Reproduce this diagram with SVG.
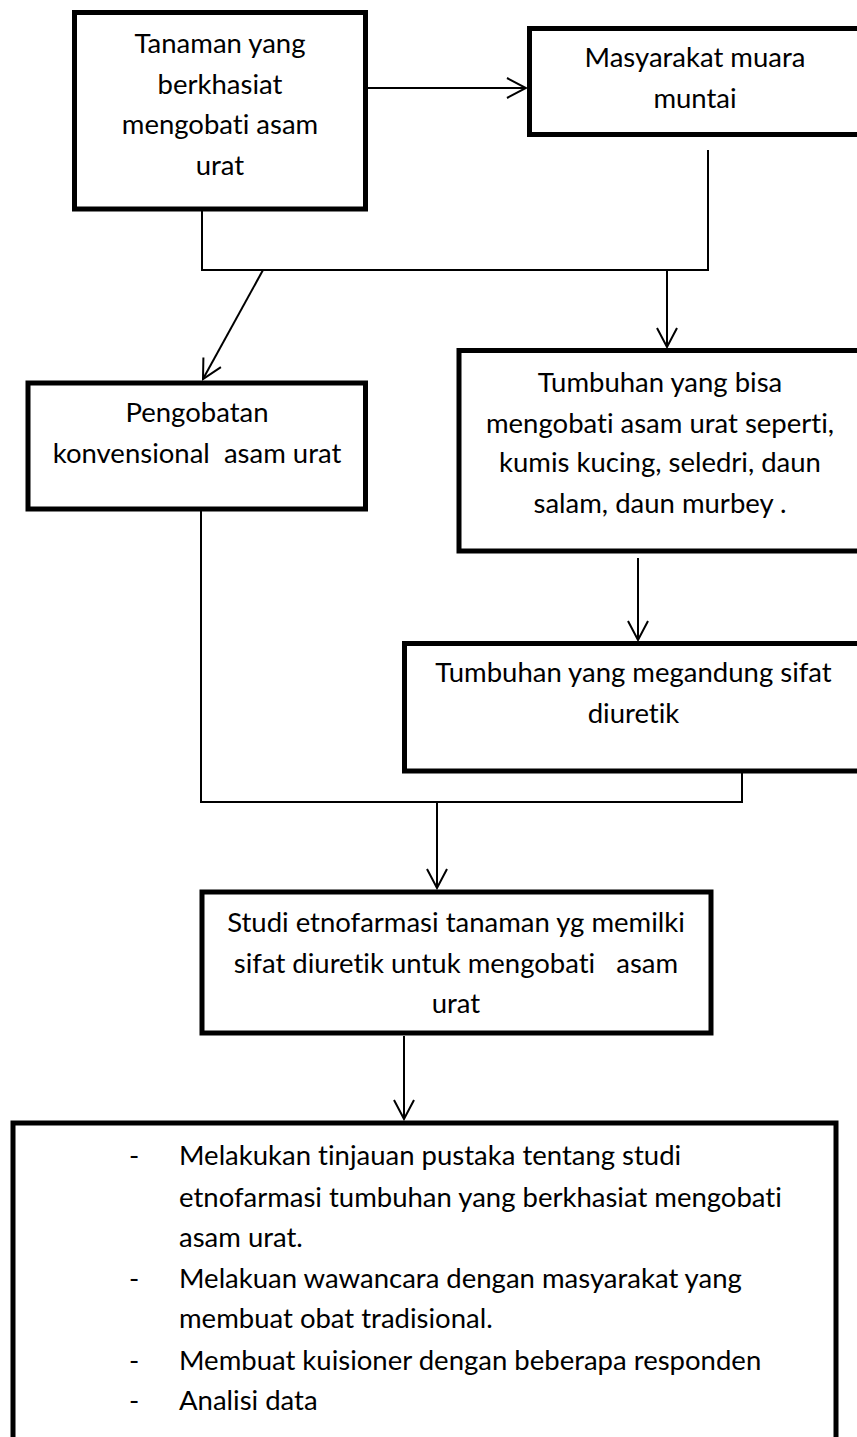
<svg xmlns="http://www.w3.org/2000/svg" width="857" height="1437" viewBox="0 0 857 1437">
<style>
.box{fill:#fff;stroke:#000;stroke-width:5}
.t{font-family:Lato,"Open Sans","Liberation Sans",sans-serif;font-size:27.5px;fill:#000;white-space:pre;font-variant-ligatures:none;font-feature-settings:"liga" 0,"clig" 0}
.c{text-anchor:middle}
.ln{fill:none;stroke:#000;stroke-width:2}
</style>
<defs>
<marker id="ah" markerUnits="userSpaceOnUse" viewBox="-22 -12 24 24" refX="0" refY="0" markerWidth="24" markerHeight="24" orient="auto">
<path d="M-19,-10 L0,0 L-19,10" fill="none" stroke="#000" stroke-width="2"/>
</marker>
</defs>
<rect width="857" height="1437" fill="#fff"/>
<g id="connectors">
<line class="ln" x1="368" y1="88" x2="526" y2="88" marker-end="url(#ah)"/>
<path class="ln" d="M202,211 V270 H708 V150"/>
<line class="ln" x1="263" y1="270" x2="203" y2="379" marker-end="url(#ah)"/>
<line class="ln" x1="667" y1="270" x2="667" y2="347" marker-end="url(#ah)"/>
<line class="ln" x1="638" y1="558" x2="638" y2="640" marker-end="url(#ah)"/>
<path class="ln" d="M201,502 V802 H742 V757"/>
<line class="ln" x1="437" y1="802" x2="437" y2="888" marker-end="url(#ah)"/>
<line class="ln" x1="404" y1="1036" x2="404" y2="1119" marker-end="url(#ah)"/>
</g>
<g id="node-tanaman">
<rect class="box" x="74.5" y="12.5" width="291" height="196.5"/>
<text class="t c" x="220" y="53">Tanaman yang</text>
<text class="t c" x="220" y="93.5">berkhasiat</text>
<text class="t c" x="220" y="134">mengobati asam</text>
<text class="t c" x="220" y="174.5">urat</text>
</g>
<g id="node-masyarakat">
<rect class="box" x="529.5" y="28.5" width="331" height="106"/>
<text class="t c" x="695" y="67">Masyarakat muara</text>
<text class="t c" x="695" y="108">muntai</text>
</g>
<g id="node-pengobatan">
<rect class="box" x="28" y="383" width="337.5" height="126"/>
<text class="t c" x="197" y="422">Pengobatan</text>
<text class="t c" x="197" y="463">konvensional  asam urat</text>
</g>
<g id="node-tumbuhan-bisa">
<rect class="box" x="459" y="350.5" width="403" height="200.5"/>
<text class="t c" x="660" y="392">Tumbuhan yang bisa</text>
<text class="t c" x="660" y="433">mengobati asam urat seperti,</text>
<text class="t c" x="660" y="472">kumis kucing, seledri, daun</text>
<text class="t c" x="660" y="513">salam, daun murbey .</text>
</g>
<g id="node-diuretik">
<rect class="box" x="404.5" y="643.5" width="458" height="127.5"/>
<text class="t c" x="633.5" y="682">Tumbuhan yang megandung sifat</text>
<text class="t c" x="633.5" y="723">diuretik</text>
</g>
<g id="node-studi">
<rect class="box" x="202" y="892" width="509" height="141"/>
<text class="t c" x="456" y="932">Studi etnofarmasi tanaman yg memilki</text>
<text class="t c" x="456" y="972.5">sifat diuretik untuk mengobati   asam</text>
<text class="t c" x="456" y="1013">urat</text>
</g>
<g id="node-metode">
<rect class="box" x="13" y="1123" width="823" height="330"/>
<text class="t c" x="134" y="1165">-</text>
<text class="t" x="179" y="1165">Melakukan tinjauan pustaka tentang studi</text>
<text class="t" x="179" y="1207">etnofarmasi tumbuhan yang berkhasiat mengobati</text>
<text class="t" x="179" y="1247">asam urat.</text>
<text class="t c" x="134" y="1288">-</text>
<text class="t" x="179" y="1288">Melakuan wawancara dengan masyarakat yang</text>
<text class="t" x="179" y="1328">membuat obat tradisional.</text>
<text class="t c" x="134" y="1370">-</text>
<text class="t" x="179" y="1370">Membuat kuisioner dengan beberapa responden</text>
<text class="t c" x="134" y="1410">-</text>
<text class="t" x="179" y="1410">Analisi data</text>
</g>
</svg>
